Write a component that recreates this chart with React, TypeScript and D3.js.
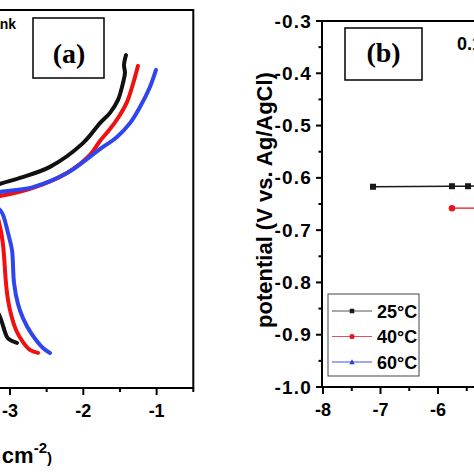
import React from "react";
import * as d3 from "d3";

type Pt = [number, number];

// ---- Panel (a): polarization curves (log i vs potential) ----
const aXMajor = [-3, -2, -1];
const aXMinor = [-2.5, -1.5, -0.5];
const aTitle = "Blank";
const aTag = "(a)";

const curve25C: Pt[] = [
  [-2.905, -1.233], [-3.0, -1.222], [-3.041, -1.211], [-3.136, -1.137], [-3.26, -1.07],
  [-3.477, -0.852], [-3.818, -0.722], [-4.091, -0.704], [-3.682, -0.685], [-3.273, -0.659],
  [-3.136, -0.644], [-2.864, -0.622], [-2.455, -0.581], [-2.005, -0.493], [-1.773, -0.419],
  [-1.636, -0.381], [-1.527, -0.333], [-1.459, -0.27], [-1.432, -0.233], [-1.445, -0.204],
  [-1.418, -0.167],
];
const curve40C: Pt[] = [
  [-2.618, -1.27], [-2.727, -1.259], [-2.823, -1.23], [-2.918, -1.185], [-2.973, -1.141],
  [-3.027, -1.074], [-3.055, -1.011], [-3.095, -0.87], [-3.136, -0.804], [-3.205, -0.748],
  [-3.409, -0.715], [-3.818, -0.704], [-3.409, -0.696], [-3.136, -0.689], [-2.686, -0.659],
  [-2.223, -0.604], [-1.909, -0.537], [-1.773, -0.485], [-1.636, -0.441], [-1.527, -0.4],
  [-1.405, -0.341], [-1.323, -0.274], [-1.255, -0.207],
];
const curve60C: Pt[] = [
  [-2.455, -1.27], [-2.55, -1.252], [-2.714, -1.196], [-2.823, -1.141], [-2.891, -1.089],
  [-2.945, -1.011], [-2.973, -0.889], [-3.027, -0.826], [-3.095, -0.759], [-3.136, -0.741],
  [-3.273, -0.715], [-3.682, -0.7], [-3.409, -0.689], [-3.136, -0.674], [-2.686, -0.656],
  [-2.223, -0.604], [-1.773, -0.515], [-1.541, -0.47], [-1.364, -0.419], [-1.227, -0.359],
  [-1.091, -0.285], [-1.009, -0.222],
];
const aColors = ["#111111", "#f01010", "#2f45ee"];

// ---- Panel (b): corrosion potential vs log i ----
const bXMajor = [-8, -7, -6];
const bXMinor = [-7.5, -6.5, -5.5];
const bYMajor = [-1.0, -0.9, -0.8, -0.7, -0.6, -0.5, -0.4, -0.3];
const bYMinor = [-0.95, -0.85, -0.75, -0.65, -0.55, -0.45, -0.35];
const bTemps = ["25°C", "40°C", "60°C"];
const b25C: Pt[] = [[-7.13, -0.617], [-5.757, -0.616], [-5.478, -0.616], [-5.0, -0.615]];
const b40C: Pt[] = [[-5.757, -0.658], [-4.9, -0.658]];
const b60C: Pt[] = [[-4.6, -0.68], [-4.2, -0.68]];
const bTag = "(b)";
const bNote = "0.1 M HCl";
const bYTitle = "potential (V vs. Ag/AgCl)";

const SANS = "'Liberation Sans', Arial, sans-serif";
const SERIF = "'Liberation Serif', 'Times New Roman', serif";

export default function App() {
  const W = 474, H = 474;
  const xA = d3.scaleLinear().domain([-3, -0.5]).range([10, 193.3]);
  const yA = d3.scaleLinear().domain([-1.4, 0]).range([388, 10]);
  const xB = d3.scaleLinear().domain([-8, -6]).range([323, 438]);
  const yB = d3.scaleLinear().domain([-1.0, -0.3]).range([387, 21]);

  const lineA = d3.line<Pt>().x(d => xA(d[0])).y(d => yA(d[1])).curve(d3.curveCatmullRom.alpha(0.5));
  const lineB = d3.line<Pt>().x(d => xB(d[0])).y(d => yB(d[1]));

  const aCurves = [curve25C, curve40C, curve60C];
  const bSeries = [b25C, b40C, b60C];
  const bColors = ["#1a1a1a", "#e8141e", "#2b3fd8"];
  const bLegendLine = ["#555555", "#e0506a", "#4050d0"];

  const marker = (i: number, cx: number, cy: number, s: number, key: string) => {
    if (i === 0) return <rect key={key} x={cx - s / 2} y={cy - s / 2} width={s} height={s} fill={bColors[0]} />;
    if (i === 1) return <circle key={key} cx={cx} cy={cy} r={s / 2 + 0.3} fill={bColors[1]} />;
    const h = s;
    return <path key={key} d={`M${cx},${cy - h / 2 - 0.5} L${cx + h / 2 + 0.5},${cy + h / 2} L${cx - h / 2 - 0.5},${cy + h / 2} Z`} fill={bColors[2]} />;
  };

  const aBottom = 388, aRight = 193.3, aTop = 10;
  const bLeft = 322, bTop = 21, bBottom = 387;

  return (
    <div style={{ position: "fixed", left: 0, top: 0 }}>
      <svg width={W} height={H} style={{ display: "block", background: "#fff" }}>
        <rect x={0} y={0} width={W} height={H} fill="#fff" />

        {/* ---------- Panel (a) ---------- */}
        <g>
          {aCurves.map((c, i) => (
            <path key={i} d={lineA(c) || ""} fill="none" stroke={aColors[i]} strokeWidth={4}
              strokeLinejoin="round" strokeLinecap="round" />
          ))}
          <path d={`M-5,${aTop} L${aRight},${aTop} L${aRight},${aBottom} L-5,${aBottom}`} fill="none" stroke="#000" strokeWidth={2} />
          {aXMajor.map(v => (
            <g key={"am" + v}>
              <line x1={xA(v)} x2={xA(v)} y1={aBottom} y2={aBottom + 7} stroke="#000" strokeWidth={2} />
              <text x={xA(v)} y={417} textAnchor="middle" fontFamily={SANS} fontWeight="bold" fontSize={18}>{v}</text>
            </g>
          ))}
          {aXMinor.map(v => (
            <line key={"an" + v} x1={xA(v)} x2={xA(v)} y1={aBottom} y2={aBottom + 4} stroke="#000" strokeWidth={2} />
          ))}
          <text x={52} y={463} textAnchor="end" fontFamily={SANS} fontWeight="bold" fontSize={22}>
            log i (A cm<tspan fontSize={15} dy={-10}>-2</tspan><tspan fontSize={15} dy={10}>)</tspan>
          </text>
          <text x={16} y={29} textAnchor="end" fontFamily={SANS} fontWeight="bold" fontSize={14}>{aTitle}</text>
          <rect x={33} y={18} width={71} height={60} fill="none" stroke="#000" strokeWidth={1.5} />
          <text x={69} y={63} textAnchor="middle" fontFamily={SERIF} fontWeight="bold" fontSize={28}>{aTag}</text>
        </g>

        {/* ---------- Panel (b) ---------- */}
        <g>
          {bSeries.map((s, i) => (
            <g key={"bs" + i}>
              <path d={lineB(s) || ""} fill="none" stroke={bColors[i]} strokeWidth={i === 0 ? 1.5 : 1.2} />
              {s.map((d, j) => marker(i, xB(d[0]), yB(d[1]), 6, `m${i}-${j}`))}
            </g>
          ))}
          <path d={`M${W + 5},${bTop} L${bLeft},${bTop} L${bLeft},${bBottom} L${W + 5},${bBottom}`} fill="none" stroke="#000" strokeWidth={2} />
          {bYMajor.map(v => (
            <g key={"by" + v}>
              <line x1={bLeft - 6} x2={bLeft} y1={yB(v)} y2={yB(v)} stroke="#000" strokeWidth={2} />
              <text x={312} y={yB(v) + 6.5} textAnchor="end" fontFamily={SANS} fontWeight="bold" fontSize={19} letterSpacing={1.2}>{v.toFixed(1)}</text>
            </g>
          ))}
          {bYMinor.map(v => (
            <line key={"byn" + v} x1={bLeft - 3.5} x2={bLeft} y1={yB(v)} y2={yB(v)} stroke="#000" strokeWidth={2} />
          ))}
          {bXMajor.map(v => (
            <g key={"bx" + v}>
              <line x1={xB(v)} x2={xB(v)} y1={bBottom} y2={bBottom + 7} stroke="#000" strokeWidth={2} />
              <text x={xB(v)} y={416} textAnchor="middle" fontFamily={SANS} fontWeight="bold" fontSize={18}>{v}</text>
            </g>
          ))}
          {bXMinor.map(v => (
            <line key={"bxn" + v} x1={xB(v)} x2={xB(v)} y1={bBottom} y2={bBottom + 4} stroke="#000" strokeWidth={2} />
          ))}
          <text transform={`translate(272,200) rotate(-90)`} textAnchor="middle" fontFamily={SANS} fontWeight="bold" fontSize={22}>{bYTitle}</text>
          <rect x={345} y={28} width={77} height={52} fill="none" stroke="#000" strokeWidth={1.5} />
          <text x={383.5} y={62} textAnchor="middle" fontFamily={SERIF} fontWeight="bold" fontSize={28}>{bTag}</text>
          <text x={457} y={50} fontFamily={SANS} fontWeight="bold" fontSize={18}>{bNote}</text>

          <rect x={328} y={294} width={91} height={82} fill="#fff" stroke="#444" strokeWidth={1} />
          {bTemps.map((t, i) => {
            const y = 311 + i * 25.5;
            return (
              <g key={"lg" + i}>
                <line x1={332} x2={372} y1={y} y2={y} stroke={bLegendLine[i]} strokeWidth={1} />
                {marker(i, 352, y, 4.5, "lm" + i)}
                <text x={377} y={y + 6.5} fontFamily={SANS} fontWeight="bold" fontSize={18}>{t}</text>
              </g>
            );
          })}
        </g>
      </svg>
    </div>
  );
}
